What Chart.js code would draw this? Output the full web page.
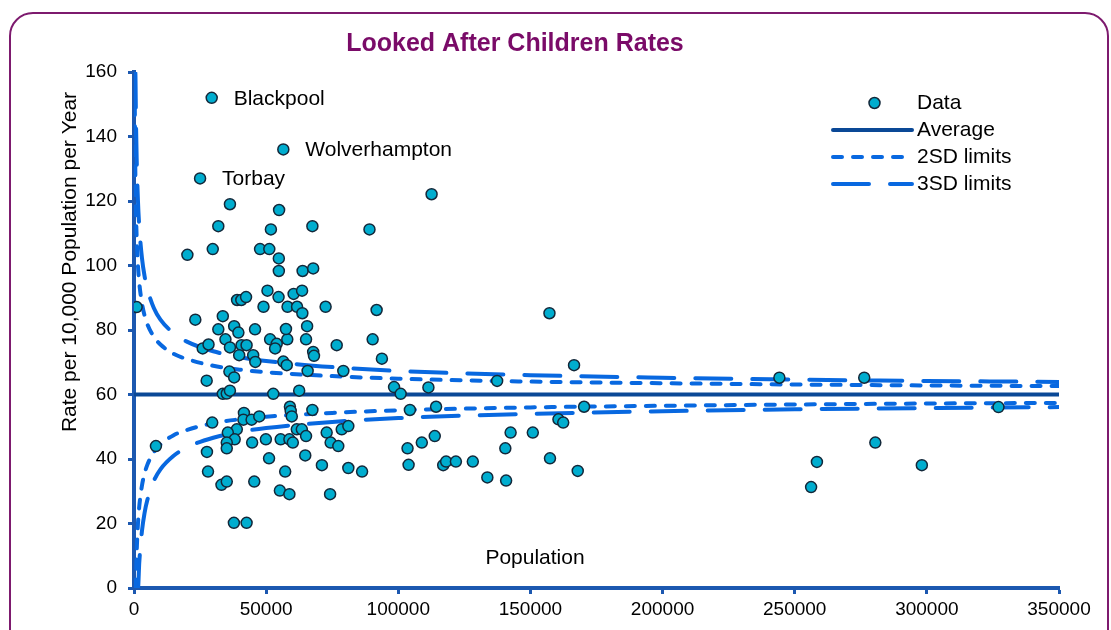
<!DOCTYPE html>
<html>
<head>
<meta charset="utf-8">
<title>Looked After Children Rates</title>
<script src="https://cdn.jsdelivr.net/npm/chart.js@4.4.1/dist/chart.umd.min.js"></script>
<style>
  html, body { margin: 0; padding: 0; background: #fff; overflow: hidden; }
  #wrap { position: relative; width: 1111px; height: 630px; }
  #frame {
    position: absolute; left: 9px; top: 12px; width: 1100px; height: 700px;
    border: 2px solid #7d1a6e; border-radius: 24px; box-sizing: border-box;
  }
  canvas { position: absolute; left: 0; top: 0; }
</style>
</head>
<body>
<div id="wrap">
  <div id="frame"></div>
  <canvas id="lacChart" width="1111" height="630"></canvas>
</div>
<script>
// population (x) and rate per 10,000 (y) for each local authority
const population = [
  29400, 56500, 25000, 36300, 54900, 112600, 31900, 51800, 67500, 89100,
  20200, 29800, 47700, 51200, 54800, 54800, 63800, 67800, 1000, 23200,
  33600, 39000, 40600, 42400, 50500, 54700, 60400, 63600, 49000, 58100,
  61700, 72500, 91800, 63700, 37900, 39500, 31900, 45800, 34600, 51500,
  58000, 65100, 57500, 65500, 76700, 90300, 93800, 26000, 28200, 36300,
  40700, 42600, 39800, 45100, 45900, 54000, 53400, 67800, 68100, 56500,
  57800, 65700, 79200, 36100, 37900, 27500, 98400, 100900, 52700, 62500,
  33600, 35100, 36300, 111400, 137400, 166500, 157200, 104400, 114300, 170300,
  160600, 162400, 41600, 41400, 44500, 47400, 59000, 59300, 59700, 67500,
  29600, 38900, 35500, 38100, 35100, 35100, 44700, 49900, 55500, 58800,
  60100, 61600, 63500, 65100, 72900, 74400, 77300, 78600, 81100, 8300,
  27600, 51100, 64800, 28000, 57200, 71100, 81100, 86300, 33100, 35100,
  45500, 55200, 58800, 74200, 37800, 42600, 103500, 103900, 108900, 113800,
  117000, 118100, 121800, 128200, 133700, 140800, 140500, 142500, 150900, 157400,
  167900, 244200, 276300, 327100, 280500, 258400, 298100, 256200
];
const rate = [
  152, 136, 127, 119, 117.2, 122.1, 112.2, 111.2, 112.2, 111.2,
  103.3, 105.1, 105.1, 105.1, 102.2, 98.3, 98.3, 99.1, 87.1, 83.2,
  84.3, 89.3, 89.3, 90.2, 92.2, 90.2, 91.2, 92.2, 87.2, 87.2,
  87.2, 87.2, 86.2, 85.2, 81.2, 79.2, 80.2, 80.2, 77.1, 77.1,
  77.1, 77.1, 80.3, 81.2, 75.3, 77.1, 71.1, 74.3, 75.5, 74.6,
  75.3, 75.3, 72.2, 72.2, 70.1, 75.7, 74.3, 73.2, 72.0, 70.2,
  69.1, 67.3, 67.3, 67.1, 65.3, 64.3, 62.3, 60.2, 60.2, 61.2,
  60.2, 60.3, 61.2, 62.2, 64.2, 69.1, 85.2, 55.2, 56.2, 56.2,
  52.3, 51.3, 54.3, 52.2, 52.2, 53.2, 56.2, 54.9, 53.2, 55.2,
  51.3, 49.2, 48.2, 46.1, 45.1, 43.3, 45.1, 46.1, 46.1, 46.1,
  45.1, 49.2, 49.2, 47.1, 48.2, 45.1, 44.0, 49.2, 50.2, 44.0,
  42.2, 40.2, 41.1, 36.1, 36.1, 38.1, 37.2, 36.1, 32.0, 33.0,
  33.0, 30.2, 29.1, 29.1, 20.2, 20.2, 43.3, 38.2, 45.1, 47.1,
  38.1, 39.2, 39.2, 39.2, 34.3, 33.3, 43.3, 48.2, 48.2, 40.2,
  36.3, 65.2, 65.2, 56.1, 45.1, 39.1, 38.1, 31.3
];

// labelled outliers
const namedAreas = ["Blackpool", "Wolverhampton", "Torbay"];
const namedPop = [29400, 56500, 25000];
const namedRate = [152, 136, 127];

// funnel limits
const averageRate = 60;
const limitPop = [300, 500, 750, 1000, 1500, 2000, 3000, 4000, 5000, 7500, 10000, 15000,
  20000, 30000, 40000, 50000, 75000, 100000, 150000, 200000, 250000, 300000, 350000];
const upper2 = [149.4, 129.3, 116.6, 109.0, 100.0, 94.6, 88.3, 84.5, 81.9, 77.9, 75.5, 72.6,
  71.0, 68.9, 67.7, 66.9, 65.7, 64.9, 64.0, 63.5, 63.1, 62.8, 62.6];
const lower2 = [0, 0, 3.4, 11.0, 20.0, 25.4, 31.7, 35.5, 38.1, 42.1, 44.5, 47.4,
  49.0, 51.1, 52.3, 53.1, 54.3, 55.1, 56.0, 56.5, 56.9, 57.2, 57.4];
const upper3 = [160, 160, 144.9, 133.5, 120.0, 112.0, 102.4, 96.7, 92.9, 86.8, 83.2, 79.0,
  76.4, 73.4, 71.6, 70.4, 68.5, 67.3, 66.0, 65.2, 64.6, 64.2, 63.9];
const lower3 = [0, 0, 0, 0, 0, 8.0, 17.6, 23.3, 27.1, 33.2, 36.8, 41.0,
  43.6, 46.6, 48.4, 49.6, 51.5, 52.7, 54.0, 54.8, 55.4, 55.8, 56.1];

const xTicks = [0, 50000, 100000, 150000, 200000, 250000, 300000, 350000];
const yTicks = [0, 20, 40, 60, 80, 100, 120, 140, 160];

const FONT = '"Liberation Sans", Arial, sans-serif';
const pointFill = "#00adcf";
const pointEdge = "#13283a";
const avgColor = "#0a4896";
const limitColor = "#0868e0";
const axisColor = "#1c58b0";

const toXY = (xs, ys) => xs.map((v, i) => ({ x: v, y: ys[i] }));

const limitLine = (label, ys, dash) => ({
  type: "line",
  label: label,
  data: toXY(limitPop, ys),
  borderColor: limitColor,
  borderWidth: 4,
  borderDash: dash,
  borderCapStyle: "round",
  pointRadius: 0,
  cubicInterpolationMode: "monotone",
  order: 2,
});

// draws title, labels, axis captions and legend
const extras = {
  id: "extras",
  afterDraw(chart) {
    const { ctx, chartArea, scales } = chart;
    const x = scales.x, y = scales.y;
    ctx.save();

    ctx.fillStyle = "#7a0b68";
    ctx.font = "bold 25px " + FONT;
    ctx.textAlign = "center";
    ctx.textBaseline = "middle";
    ctx.fillText("Looked After Children Rates", 515, 44);

    ctx.fillStyle = "#000";
    ctx.font = "21px " + FONT;
    ctx.textAlign = "left";
    namedAreas.forEach((name, i) => {
      ctx.fillText(name, x.getPixelForValue(namedPop[i]) + 22, y.getPixelForValue(namedRate[i]) + 1);
    });

    ctx.textAlign = "center";
    ctx.fillText("Population", chartArea.left + 401, chartArea.bottom - 30);

    ctx.save();
    ctx.translate(70, 262);
    ctx.rotate(-Math.PI / 2);
    ctx.fillText("Rate per 10,000 Population per Year", 0, 0);
    ctx.restore();

    // legend
    const lx = 833, lw = 79, tx = 917;
    const rows = [103, 130, 157, 184];
    ctx.textAlign = "left";
    ctx.fillText("Data", tx, rows[0]);
    ctx.fillText("Average", tx, rows[1]);
    ctx.fillText("2SD limits", tx, rows[2]);
    ctx.fillText("3SD limits", tx, rows[3]);

    ctx.beginPath();
    ctx.arc(lx + lw / 2 + 2, rows[0], 5.5, 0, Math.PI * 2);
    ctx.fillStyle = pointFill;
    ctx.fill();
    ctx.lineWidth = 1.5;
    ctx.strokeStyle = pointEdge;
    ctx.stroke();

    ctx.lineCap = "round";
    ctx.lineWidth = 4;
    const sample = (row, color, dash) => {
      ctx.strokeStyle = color;
      ctx.setLineDash(dash);
      ctx.beginPath();
      ctx.moveTo(lx, row);
      ctx.lineTo(lx + lw, row);
      ctx.stroke();
    };
    sample(rows[1], avgColor, []);
    sample(rows[2], limitColor, [9, 11]);
    sample(rows[3], limitColor, [36, 21]);
    ctx.restore();
  },
};

const ctx = document.getElementById("lacChart").getContext("2d");
const lacChart = new Chart(ctx, {
  type: "scatter",
  data: {
    datasets: [
      {
        label: "Data",
        data: toXY(population, rate),
        backgroundColor: pointFill,
        borderColor: pointEdge,
        borderWidth: 1.5,
        pointRadius: 5.5,
        order: 0,
      },
      {
        type: "line",
        label: "Average",
        data: toXY([0, 350000], [averageRate, averageRate]),
        borderColor: avgColor,
        borderWidth: 4,
        pointRadius: 0,
        order: 1,
      },
      limitLine("2SD limits", upper2, [9, 11]),
      limitLine("2SD limits", lower2, [9, 11]),
      limitLine("3SD limits", upper3, [36, 21]),
      limitLine("3SD limits", lower3, [36, 21]),
    ],
  },
  options: {
    responsive: false,
    animation: false,
    layout: { padding: { top: 72, right: 52, left: 0, bottom: 0 } },
    plugins: {
      legend: { display: false },
      title: { display: false },
      tooltip: { enabled: false },
    },
    scales: {
      x: {
        type: "linear",
        min: 0,
        max: 350000,
        afterFit: (scale) => { scale.height = 42; },
        afterBuildTicks: (scale) => { scale.ticks = xTicks.map((v) => ({ value: v })); },
        ticks: {
          color: "#000",
          font: { family: FONT, size: 19 },
          padding: 4,
          maxRotation: 0,
          callback: (v) => String(v),
        },
        grid: { drawOnChartArea: false, drawTicks: true, tickLength: 6, tickColor: axisColor, tickWidth: 3 },
        border: { display: true, color: axisColor, width: 4 },
      },
      y: {
        min: 0,
        max: 160,
        afterFit: (scale) => { scale.width = 134; },
        afterBuildTicks: (scale) => { scale.ticks = yTicks.map((v) => ({ value: v })); },
        ticks: {
          color: "#000",
          font: { family: FONT, size: 19 },
          padding: 11,
          callback: (v) => String(v),
        },
        grid: { drawOnChartArea: false, drawTicks: true, tickLength: 6, tickColor: axisColor, tickWidth: 3 },
        border: { display: true, color: axisColor, width: 4 },
      },
    },
  },
  plugins: [extras],
});
</script>
</body>
</html>
